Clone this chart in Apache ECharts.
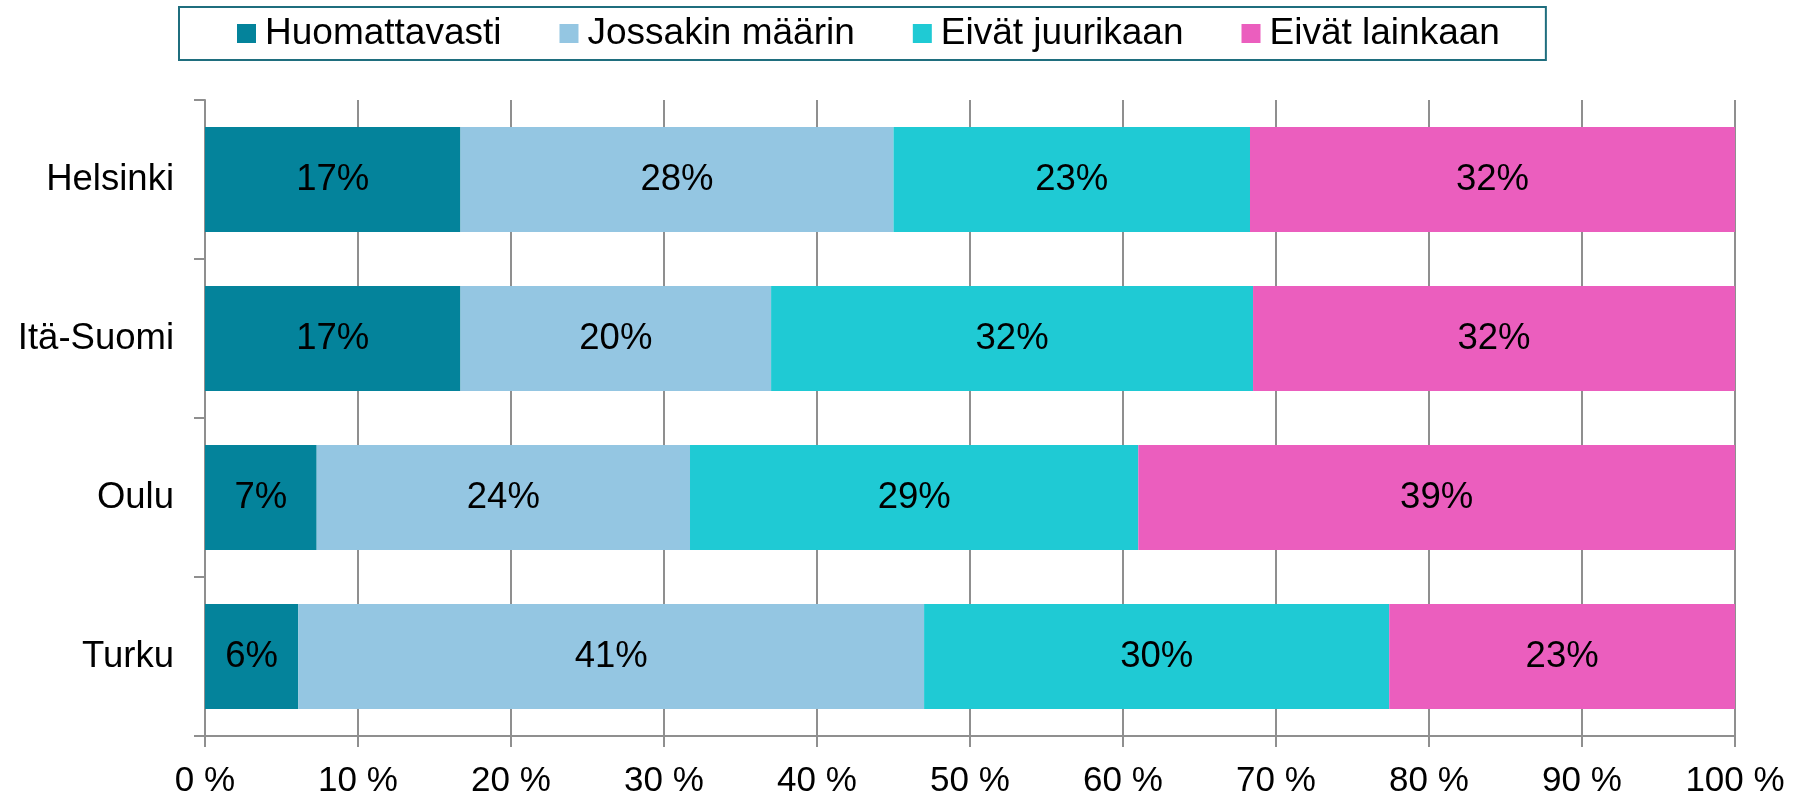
<!DOCTYPE html>
<html>
<head>
<meta charset="utf-8">
<script src="https://cdn.jsdelivr.net/npm/echarts@6/dist/echarts.min.js"></script>
<style>
  html, body { margin: 0; padding: 0; background: #fff; }
  #chart { width: 1804px; height: 801px; }
</style>
</head>
<body>
<div id="chart"></div>
<script>
// alueet ylhäältä alas
const regions = ['Helsinki', 'Itä-Suomi', 'Oulu', 'Turku']

// osuudet (%) luettu kuvasta
const huomattavasti = [16.7, 16.7, 7.3, 6.1]
const jossakin = [28.3, 20.3, 24.4, 40.9]
const juurikaan = [23.3, 31.5, 29.3, 30.4]
const lainkaan = [31.7, 31.5, 39.0, 22.6]

const xTicks = [0, 10, 20, 30, 40, 50, 60, 70, 80, 90, 100]

const COLORS = {
  'Huomattavasti': '#04839B',
  'Jossakin määrin': '#94C6E2',
  'Eivät juurikaan': '#1FCAD4',
  'Eivät lainkaan': '#EB5EBE',
}

const FONT = 'Liberation Sans, Arial, sans-serif'

function makeSeries(name, data) {
  return {
    name,
    type: 'bar',
    stack: 'total',
    barCategoryGap: '34%',
    data,
    itemStyle: { color: COLORS[name] },
    label: {
      show: true,
      position: 'inside',
      color: '#000',
      fontFamily: FONT,
      fontSize: 36.5,
      formatter: (p) => Math.round(p.value) + '%',
    },
  }
}

const chart = echarts.init(document.getElementById('chart'))
chart.setOption({
  animation: false,
  backgroundColor: '#fff',
  legend: {
    left: 179,
    top: 7,
    padding: [8, 46, 8, 58],
    itemGap: 58,
    itemWidth: 19,
    itemHeight: 19,
    icon: 'rect',
    borderColor: '#1F6E7E',
    borderWidth: 2,
    textStyle: { fontFamily: FONT, fontSize: 37, color: '#000', padding: [0, 0, 0, 4] },
    data: Object.keys(COLORS),
  },
  grid: { left: 205, right: 69, top: 100, bottom: 65 },
  xAxis: {
    type: 'value',
    min: 0,
    max: 100,
    interval: 10,
    axisLine: { show: true, lineStyle: { color: '#8f8f8f', width: 2 } },
    axisTick: { show: true, length: 11, lineStyle: { color: '#8f8f8f', width: 2 } },
    splitLine: { show: true, lineStyle: { color: '#8f8f8f', width: 2 } },
    axisLabel: {
      margin: 28,
      fontFamily: FONT,
      fontSize: 35,
      color: '#000',
      formatter: (v) => (xTicks.includes(v) ? v + ' %' : ''),
    },
  },
  yAxis: {
    type: 'category',
    inverse: true,
    data: regions,
    axisLine: { show: true, lineStyle: { color: '#8f8f8f', width: 2 } },
    axisTick: { show: true, length: 11, lineStyle: { color: '#8f8f8f', width: 2 } },
    axisLabel: { margin: 31, fontFamily: FONT, fontSize: 36.5, color: '#000' },
  },
  series: [
    makeSeries('Huomattavasti', huomattavasti),
    makeSeries('Jossakin määrin', jossakin),
    makeSeries('Eivät juurikaan', juurikaan),
    makeSeries('Eivät lainkaan', lainkaan),
  ],
})
</script>
</body>
</html>
